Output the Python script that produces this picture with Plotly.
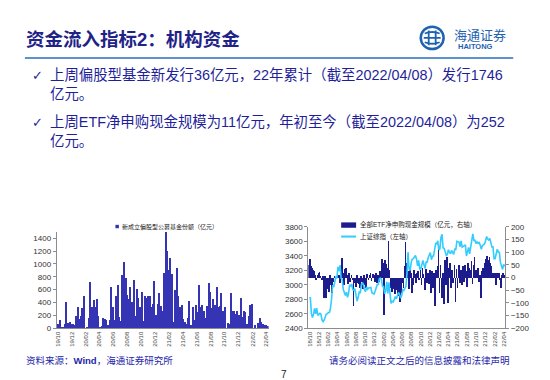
import plotly.graph_objects as go
import pandas as pd

W, H = 550, 380
def X(px): return px / W
def Y(py): return 1 - py / H

# ---------------- data ----------------
# weekly new equity-fund issuance (亿元), weeks ending Fri, 2019-10-04 .. 2022-04-08
fund_values = [70, 140, 30, 20, 80, 410, 90, 110, 80, 70, 60, 190, 340, 150, 200, 320, 500, 0,
               20, 170, 720, 340, 450, 340, 460, 200, 30, 40, 160, 150, 130, 60, 130, 650, 340, 140,
               500, 670, 180, 120, 830, 1030, 780, 520, 460, 650, 420, 760, 200, 610, 470, 330, 570,
               120, 500, 470, 500, 510, 330, 380, 740, 210, 380, 560, 350, 270, 860, 1500, 1200, 910,
               1100, 850, 100, 600, 940, 500, 340, 360, 150, 110, 70, 170, 430, 60, 340, 130, 370,
               260, 680, 330, 370, 280, 170, 350, 710, 570, 320, 460, 360, 650, 340, 350, 560, 280,
               330, 10, 90, 80, 560, 280, 270, 230, 280, 210, 470, 180, 280, 260, 80, 190, 370, 380,
               0, 60, 10, 90, 160, 110, 70, 60, 60, 36]
fund_dates = pd.date_range(end="2022-04-08", periods=len(fund_values), freq="7D")

# weekly ETF net subscription (亿元, right axis), weeks ending Fri, 2018-09-28 .. 2022-04-08
etf_values = [50, 73, 45, 40, 30, 25, 12, -8, 10, 18, 22, 5, -10, 8, -80, 5, -80, -45, -20, -55,
              10, -30, -60, -15, 5, -10, 8, 25, 10, -20, 15, 78, 20, -30, 35, 40, 10, -25, 20, -15,
              12, -10, -110, -20, -35, 10, -20, -25, -40, 8, -15, -45, 10, -30, -40, 15, -10, 10, 20,
              -12, 15, 10, -15, 20, -20, 10, -15, 25, 12, 75, 60, -145, 70, 55, 40, 145, 30, -40, -55,
              -30, -45, -65, -25, -50, -70, -35, -95, -60, -20, -40, 45, 140, 60, 25, -45, 35, 20, -60,
              -30, 30, 15, -20, 20, 25, -10, 30, -30, 40, 15, -50, 35, -20, 20, -25, 30, -60, 25, -40,
              20, -110, 30, 45, 115, -60, 50, -80, 20, -105, 70, -30, 80, -100, 40, 60, -40, 30, -20,
              50, -95, 35, -40, 50, -20, 30, -30, 45, -15, 50, 25, -35, 60, 40, 30, 65, -25, 50, 80,
              30, 20, 40, -15, 10, -80, 25, 40, 10, 60, 75, 85, 70, 80, 60, 45, 20, 15, 20, -30, 20,
              15, 20, -10, -40, 10, 20, 11]
# weekly close of the Shanghai Composite (left axis)
sse_values = [2821, 2821, 2606, 2550, 2598, 2676, 2599, 2679, 2579, 2588, 2606, 2594, 2516, 2494,
              2514, 2554, 2596, 2601, 2618, 2618, 2682, 2804, 2994, 2969, 3021, 3104, 3091, 3247,
              3189, 3271, 3086, 3078, 2939, 2882, 2853, 2899, 2827, 2882, 3001, 2979, 3011, 2931,
              2924, 2945, 2868, 2775, 2824, 2898, 2886, 2999, 3031, 3006, 2932, 2905, 2973, 2938,
              2955, 2958, 2964, 2891, 2885, 2872, 2912, 2968, 3005, 3006,
              3084, 3092, 3075, 2976, 2976, 2876, 2917, 3040, 2880, 3034, 2887, 2745, 2772, 2764,
              2796, 2839, 2809, 2860, 2895, 2868, 2814, 2852, 2931, 2920, 2967, 2980, 3153, 3450,
              3214, 3197, 3310, 3354, 3360, 3380, 3404, 3355, 3260, 3338, 3219, 3218, 3272, 3336,
              3278, 3225, 3312, 3311, 3377, 3408, 3445, 3347, 3394, 3397,
              3473, 3570, 3566, 3607, 3483, 3496, 3655, 3696, 3509, 3502, 3454, 3405, 3418, 3484,
              3451, 3427, 3474, 3447, 3419, 3490, 3487, 3600, 3592, 3590, 3525, 3607, 3519, 3525,
              3539, 3550, 3397, 3458, 3516, 3427, 3522, 3581, 3703, 3613, 3613, 3568, 3592, 3572,
              3583, 3547, 3491, 3539, 3560, 3564, 3607, 3666, 3632, 3618, 3640,
              3580, 3521, 3522, 3361, 3361, 3462, 3491, 3451, 3447, 3309, 3251, 3212, 3283, 3252]
etf_dates = pd.date_range(end="2022-04-08", periods=len(etf_values), freq="7D")
sse_dates = pd.date_range(end="2022-04-08", periods=len(sse_values), freq="7D")

left_xticks = pd.date_range("2019-10-01", "2022-04-01", freq="2MS")
right_xticks = pd.date_range("2018-10-01", "2022-04-01", freq="2MS")
fund_yticks = list(range(0, 1401, 200))
sse_yticks = list(range(2400, 3801, 200))
etf_yticks = list(range(-200, 201, 50))

fund_name = "新成立偏股型公募基金份额（亿元）"
etf_name = "全部ETF净申购现金规模（亿元，右轴）"
sse_name = "上证综指（左轴）"

NAVY = "#1f1f9a"
BAR1 = "#3434b4"
BAR2 = "#1c1c8c"
LINE = "#33ccff"
FONT = "Liberation Sans, Noto Sans CJK SC, sans-serif"

fig = go.Figure()
fig.add_trace(go.Bar(x=fund_dates, y=fund_values, name=fund_name, xaxis="x", yaxis="y",
                     marker=dict(color=BAR1, line=dict(width=0)), width=5.6 * 86400000,
                     showlegend=False))
fig.add_trace(go.Bar(x=etf_dates, y=etf_values, name=etf_name, xaxis="x2", yaxis="y2",
                     marker=dict(color=BAR2, line=dict(width=0)), width=5.0 * 86400000,
                     showlegend=False))
fig.add_trace(go.Scatter(x=sse_dates, y=sse_values, name=sse_name, xaxis="x2", yaxis="y3",
                         mode="lines", line=dict(color=LINE, width=1.6), showlegend=False))

base = dict(showgrid=False, zeroline=False, showline=True, linecolor="#8c8c8c", linewidth=1)
ytf = dict(family=FONT, size=8, color="#333")
xtf = dict(family=FONT, size=6, color="#444")
fig.update_layout(
    width=W, height=380, autosize=False,
    margin=dict(l=0, r=0, t=0, b=0),
    paper_bgcolor="white", plot_bgcolor="white",
    bargap=0,
    xaxis=dict(domain=[X(47), X(260)], anchor="y", type="date",
               range=["2019-09-27", "2022-04-12"],
               tickvals=left_xticks, ticktext=[d.strftime("%y/%m") for d in left_xticks],
               tickangle=-90, ticks="", tickfont=xtf, **base),
    yaxis=dict(domain=[Y(324), Y(225)], anchor="x", range=[0, 1500], tickvals=fund_yticks,
               ticks="outside", ticklen=3, tickcolor="#8c8c8c", tickfont=ytf, **base),
    xaxis2=dict(domain=[X(300), X(498)], anchor="y2", type="date",
                range=["2018-09-22", "2022-04-12"],
                tickvals=right_xticks, ticktext=[d.strftime("%y/%m") for d in right_xticks],
                tickangle=-90, ticks="", tickfont=xtf, **base),
    yaxis2=dict(domain=[Y(324), Y(220)], anchor="x2", side="right", range=[-200, 200],
                tickvals=etf_yticks, ticks="outside", ticklen=3, tickcolor="#8c8c8c",
                tickfont=ytf, **base),
    yaxis3=dict(overlaying="y2", anchor="x2", side="left", range=[2400, 3800],
                tickvals=sse_yticks, ticks="outside", ticklen=3, tickcolor="#8c8c8c",
                tickfont=ytf, **base),
)

ann = []
def text(x, y, s, size, color=NAVY, xanchor="left", family=FONT, yanchor="middle"):
    ann.append(dict(x=X(x), y=Y(y), xref="paper", yref="paper", text=s, showarrow=False,
                    xanchor=xanchor, yanchor=yanchor, font=dict(size=size, color=color, family=family)))

# title and header
text(14, 28, "<b>资金流入指标2：机构资金</b>", 18.5, color="#1f2388")
text(444, 24, "海通证券", 13, color="#1e62b0")
text(468, 35, "<b>HAITONG</b>", 7.5, color="#1e62b0", xanchor="center")

# bullets
text(20, 65, "✓", 13, family="DejaVu Sans")
text(38, 65, "上周偏股型基金新发行36亿元，22年累计（截至2022/04/08）发行1746", 14.4)
text(38, 84, "亿元。", 14.4)
text(20, 113, "✓", 13, family="DejaVu Sans")
text(38, 113, "上周ETF净申购现金规模为11亿元，年初至今（截至2022/04/08）为252", 14.4)
text(38, 132, "亿元。", 14.4)

# chart legends
text(111, 220, fund_name, 6, color="#222")
text(350, 218, etf_name, 6.5, color="#222")
text(350, 230, sse_name, 6.5, color="#222")

# footer
text(14, 357, "资料来源：<b>Wind</b>，海通证券研究所", 9.5, color="#2525a8")
text(505, 357, "请务必阅读正文之后的信息披露和法律声明", 9.5, color="#2525a8", xanchor="right")
text(275, 371, "7", 10, color="#222", xanchor="center")

shapes = [
    dict(type="line", xref="paper", yref="paper", x0=X(15), x1=X(506), y0=Y(47), y1=Y(47),
         line=dict(color="#5c93cc", width=2)),
    dict(type="rect", xref="paper", yref="paper", x0=X(106), x1=X(109.5), y0=Y(221.5), y1=Y(218),
         fillcolor=BAR1, line=dict(width=0)),
    dict(type="rect", xref="paper", yref="paper", x0=X(333), x1=X(348), y0=Y(221), y1=Y(215.5),
         fillcolor=BAR2, line=dict(width=0)),
    dict(type="line", xref="paper", yref="paper", x0=X(333), x1=X(348), y0=Y(230), y1=Y(230),
         line=dict(color=LINE, width=2)),
    # logo emblem
    dict(type="circle", xref="paper", yref="paper", x0=X(413), x1=X(436), y0=Y(38), y1=Y(15),
         line=dict(color="#1e62b0", width=2.5)),
    dict(type="path", xref="paper", yref="paper",
         path=f"M {X(416)} {Y(26.5)} L {X(433)} {Y(26.5)} M {X(421)} {Y(19)} L {X(421)} {Y(34)} "
              f"M {X(428)} {Y(19)} L {X(428)} {Y(34)} M {X(417)} {Y(22)} Q {X(424.5)} {Y(19)} {X(432)} {Y(22)} "
              f"M {X(417)} {Y(31)} Q {X(424.5)} {Y(34)} {X(432)} {Y(31)}",
         line=dict(color="#1e62b0", width=1.8)),
]
fig.update_layout(annotations=ann, shapes=shapes)
fig.write_html("out.html")
